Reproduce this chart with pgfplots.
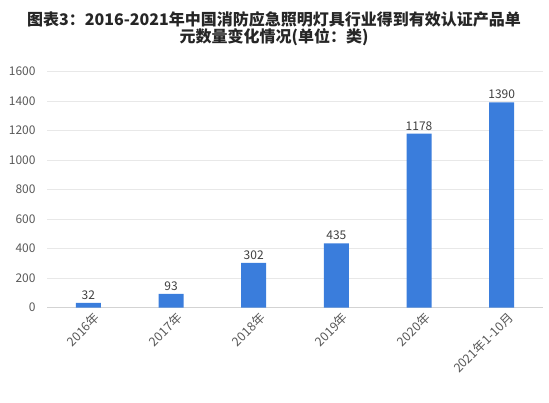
\documentclass[border=0pt]{standalone}
\usepackage{fontspec}
\setmainfont{Noto Sans CJK SC}
\usepackage{pgfplots}
\pgfplotsset{compat=1.18}
\definecolor{barblue}{HTML}{3A7DDC}
\definecolor{gridgray}{HTML}{E8E8E8}
\definecolor{ticktext}{HTML}{595959}
\definecolor{labtext}{HTML}{404040}
\begin{document}
\begin{tikzpicture}[x=1bp,y=1bp]
\useasboundingbox (0,0) rectangle (549,402);
\node[font=\fontsize{16bp}{17bp}\selectfont\bfseries, align=center, text=black!85] at (274,373) {图表3：2016-2021年中国消防应急照明灯具行业得到有效认证产品单\\元数量变化情况(单位：类)};
\begin{axis}[
  at={(47bp,94.5bp)}, anchor=south west,
  scale only axis, width=496bp, height=236bp,
  xmin=-0.5, xmax=5.5, ymin=0, ymax=1600,
  ytick={0,200,...,1600},
  xtick={0,...,5},
  xticklabels={2016年,2017年,2018年,2019年,2020年,2021年1-10月},
  x tick label style={rotate=45, anchor=north east, inner sep=1bp, xshift=2bp, yshift=-5bp, font=\fontsize{12.5bp}{14bp}\selectfont, text=ticktext},
  y tick label style={font=\fontsize{12bp}{13bp}\selectfont, text=ticktext, xshift=-8bp},
  /pgf/number format/assume math mode=true,
  scaled y ticks=false,
  yticklabel style={/pgf/number format/1000 sep={}},
  ymajorgrids, grid style={gridgray, line width=0.8bp},
  axis line style={draw=none},
  axis x line*=bottom, axis y line*=left,
  separate axis lines,
  x axis line style={draw=gridgray!80!gray, line width=0.8bp},
  major tick length=0pt,
  tick style={draw=none},
  ybar, bar width=25bp,
  nodes near coords,
  nodes near coords style={font=\fontsize{12bp}{13bp}\selectfont, text=labtext, /pgf/number format/1000 sep={}, /pgf/number format/assume math mode=true},
  clip=false,
]
\addplot[fill=barblue, draw=none] coordinates {(0,32) (1,93) (2,302) (3,435) (4,1178) (5,1390)};
\end{axis}
\end{tikzpicture}
\end{document}
